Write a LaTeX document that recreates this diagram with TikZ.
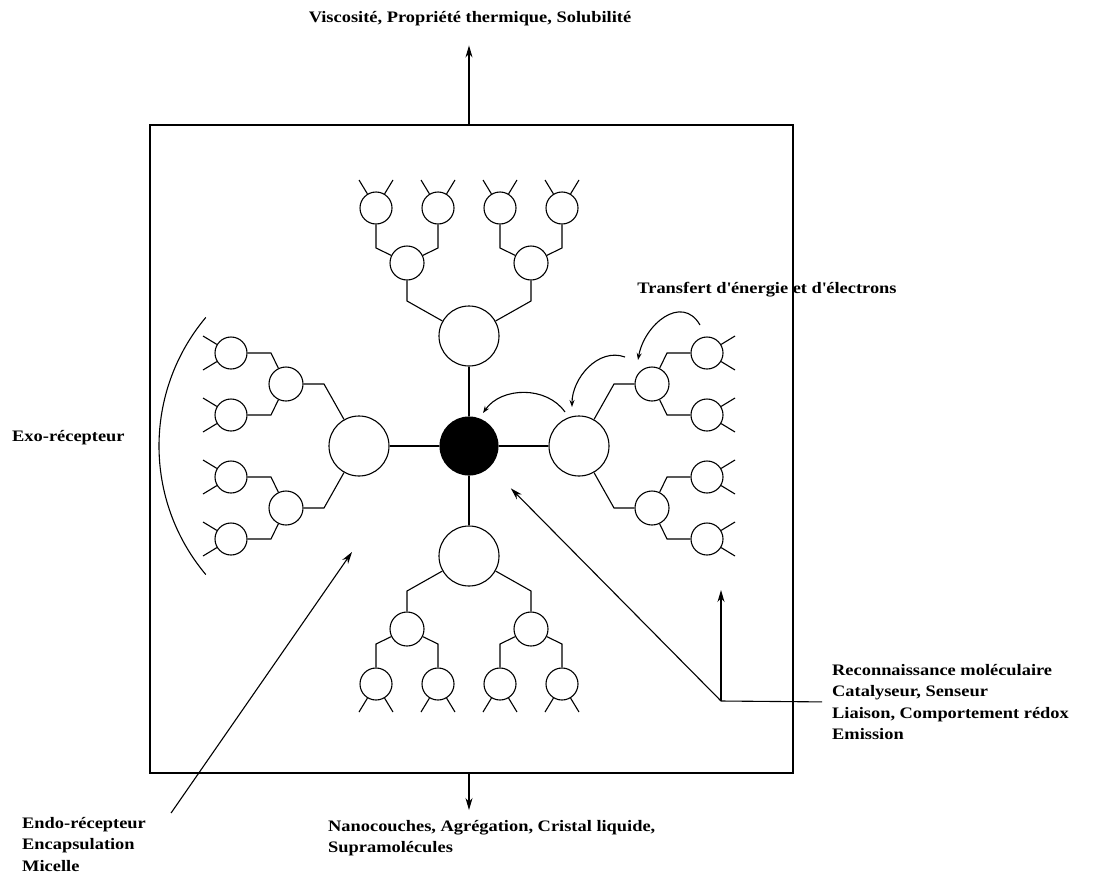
\documentclass[tikz,border=0pt]{standalone}
\usepackage{fontspec}
\setmainfont{Liberation Serif}[FakeStretch=1.15]
\usetikzlibrary{arrows.meta, calc}

\tikzset{
  unit/.style={circle, draw, line width=1.1pt, inner sep=0pt},
  core/.style={unit, fill=black, minimum size=58pt},
  big/.style={unit, minimum size=60pt},
  mid/.style={unit, minimum size=34pt},
  leaf/.style={unit, minimum size=32pt},
  bond/.style={line width=1.1pt},
  lbl/.style={font=\fontsize{16}{21.5}\selectfont\bfseries, inner sep=0pt, align=left},
  pointer/.style={line width=1.1pt, -{Stealth[length=12pt, width=7pt]}},
  xfer/.style={line width=1.1pt, -{Stealth[length=7pt, width=5pt]}},
}

\begin{document}
\begin{tikzpicture}[x=1pt, y=1pt]
  \useasboundingbox (0,0) rectangle (1094,-886);
  % frame and core
  \node[draw, line width=1.3pt, minimum width=643pt, minimum height=648pt, inner sep=0pt] (frame) at (471.5,-449) {};
  \node[core] (core) at (469,-446) {};
  % four dendrons, one per side
  \foreach \ang/\side in {0/r, 90/t, 180/l, 270/b} {
    \begin{scope}[shift={(469,-446)}, rotate=\ang]
      \node[big] (\side-0) at (110,0) {};
      \draw[bond] (core) -- (\side-0);
      \foreach \sg/\mj in {1/1, -1/2} {
        \coordinate (\side-k\mj) at (145,\sg*62);
        \node[mid] (\side-m\mj) at (183,\sg*62) {};
        \draw[bond] (\side-0) -- (\side-k\mj) -- (\side-m\mj);
        \foreach \wg/\lk in {1/a, -1/b} {
          \coordinate (\side-k\mj\lk) at (198,\sg*62+\wg*31);
          \node[leaf] (\side-l\mj\lk) at (238,\sg*62+\wg*31) {};
          \coordinate (\side-e\mj\lk1) at (266,\sg*62+\wg*31+17);
          \coordinate (\side-e\mj\lk2) at (266,\sg*62+\wg*31-17);
          \draw[bond] (\side-m\mj) -- (\side-k\mj\lk) -- (\side-l\mj\lk);
          \draw[bond] (\side-e\mj\lk1) -- (\side-l\mj\lk) -- (\side-e\mj\lk2);
        }
      }
    \end{scope}
  }
  % exo-receptor arc
  \draw[bond] (l-0) ++(140:200) arc[start angle=140, end angle=220, radius=200];
  % labels
  \node[lbl] (visc) at (470,-19) {Viscosité, Propriété thermique, Solubilité};
  \node[lbl] (trans) at (767,-290) {Transfert d\textquotesingle énergie et d\textquotesingle électrons};
  \node[lbl, anchor=west] (exo) at (12,-438) {Exo-récepteur};
  \node[lbl, anchor=north west] (endo) at (22,-817) {Endo-récepteur\\Encapsulation\\Micelle};
  \node[lbl, anchor=north west] (nano) at (328,-820) {Nanocouches, Agrégation, Cristal liquide,\\Supramolécules};
  \node[lbl, anchor=west] (reco) at (832,-702) {Reconnaissance moléculaire\\Catalyseur, Senseur\\Liaison, Comportement rédox\\Emission};
  % property arrows
  \draw[pointer, shorten >=19pt] (frame.north -| core) -- (visc.south -| core);
  \draw[pointer, shorten >=10pt] (frame.south -| core) -- (nano.north -| core);
  \coordinate (endo-tip) at (352,-552);
  \draw[pointer] ($(endo.north east)+(25,4)$) -- (endo-tip);
  \coordinate (hub) at (721,-701);
  \draw[bond, shorten <=10pt] (reco.west) -- (hub);
  \draw[pointer, shorten >=30pt] (hub) -- (core);
  \draw[pointer, shorten >=51pt] (hub) -- (hub |- r-l2b);
  % energy and electron transfer
  \draw[xfer] ($(r-l1a)+(-7,28)$) to[out=120, in=80, looseness=1.3] ($(r-m1)+(-14,24)$);
  \draw[xfer] ($(r-m1)+(-27,27)$) to[out=160, in=90] ($(r-0)+(-7,39)$);
  \draw[xfer] ($(r-0)+(-14,34)$) to[out=125, in=55] ($(core)+(14,33)$);
\end{tikzpicture}
\end{document}
